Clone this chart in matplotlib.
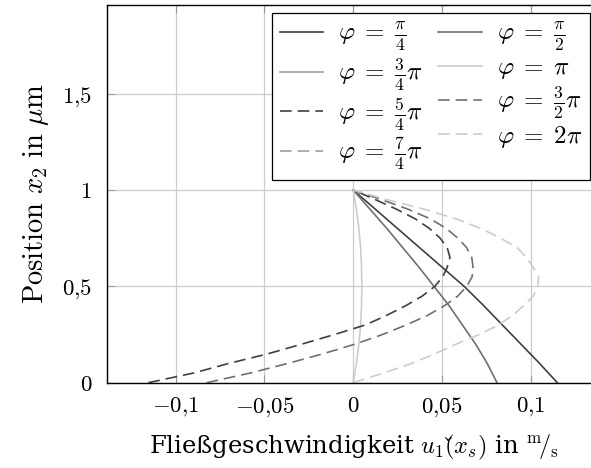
import numpy as np
import matplotlib
matplotlib.use("Agg")
from matplotlib import pyplot as plt

x2 = [0.0, 0.1, 0.2, 0.3, 0.4, 0.5, 0.6, 0.7, 0.8, 0.9, 1.0]
# finer grid for the bulging dashed profiles
x2_fine = [0.0, 0.05, 0.1, 0.15, 0.2, 0.25, 0.3, 0.35, 0.4, 0.45, 0.5,
           0.55, 0.6, 0.65, 0.7, 0.75, 0.8, 0.85, 0.9, 0.95, 1.0]

# flow velocity u1 (m/s) for each phase angle
u_pi4 = [0.115, 0.105, 0.0945, 0.084, 0.0735, 0.0625, 0.050, 0.0375, 0.025, 0.0125, 0.0]
u_pi2 = [0.081, 0.0755, 0.069, 0.0615, 0.054, 0.0455, 0.037, 0.028, 0.019, 0.0095, 0.0]
u_3pi4 = []
u_pi = [0.0, 0.0018, 0.0032, 0.0042, 0.0047, 0.0049, 0.0047, 0.0042, 0.0032, 0.0018, 0.0]
u_5pi4 = [-0.1154, -0.090, -0.070, -0.048, -0.029, -0.0105, 0.007, 0.019, 0.0297, 0.039, 0.046,
          0.0505, 0.053, 0.0545, 0.053, 0.049, 0.043, 0.035, 0.0245, 0.0125, 0.0]
u_3pi2 = [-0.0826, -0.058, -0.0368, -0.017, 0.001, 0.0165, 0.030, 0.042, 0.0515, 0.059, 0.064,
          0.067, 0.0675, 0.0668, 0.064, 0.059, 0.0525, 0.0435, 0.031, 0.016, 0.0]
u_7pi4 = []
u_2pi = [0.0, 0.017, 0.033, 0.046, 0.058, 0.071, 0.082, 0.090, 0.096, 0.1015, 0.104,
         0.1045, 0.1013, 0.0975, 0.0925, 0.083, 0.072, 0.058, 0.040, 0.019, 0.0]

labels = [r'$\varphi\;=\;\frac{\pi}{4}$', r'$\varphi\;=\;\frac{\pi}{2}$',
          r'$\varphi\;=\;\frac{3}{4}\pi$', r'$\varphi\;=\;\pi$',
          r'$\varphi\;=\;\frac{5}{4}\pi$', r'$\varphi\;=\;\frac{3}{2}\pi$',
          r'$\varphi\;=\;\frac{7}{4}\pi$', r'$\varphi\;=\;2\pi$']

xticks = [-0.1, -0.05, 0, 0.05, 0.1]
xtick_labels = [r'$-0{,}1$', r'$-0{,}05$', r'$0$', r'$0{,}05$', r'$0{,}1$']
yticks = [0, 0.5, 1, 1.5]
ytick_labels = [r'$0$', r'$0{,}5$', r'$1$', r'$1{,}5$']

plt.rcParams['mathtext.fontset'] = 'cm'
plt.rcParams['font.family'] = ['DejaVu Serif']

fig = plt.figure(figsize=(5.91, 4.68), dpi=100)
# axes run a bit past the right edge of the picture, like the cropped original
ax = fig.add_axes([0.1816, 0.1823, 0.8335, 0.807])

dash = (0, (7, 3.6))
series = [u_pi4, u_pi2, u_3pi4, u_pi, u_5pi4, u_3pi2, u_7pi4, u_2pi]
ys = [x2, x2, x2, x2, x2_fine, x2_fine, x2_fine, x2_fine]
colors = ['#404040', '#707070', '#a0a0a0', '#cccccc'] * 2
styles = ['-'] * 4 + [dash] * 4

handles = []
for vals, yv, col, ls, lab in zip(series, ys, colors, styles, labels):
    if len(vals) > 0:
        h, = ax.plot(vals, yv, color=col, linestyle=ls, lw=1.2, label=lab)
    else:
        # no profile visible for this phase, keep only the legend entry
        h, = ax.plot([], [], color=col, linestyle=ls, lw=1.2, label=lab)
    handles.append(h)

ax.set_xlim(-0.1385, 0.139)
ax.set_ylim(0, 1.96)
ax.set_xticks(xticks)
ax.set_xticklabels(xtick_labels)
ax.set_yticks(yticks)
ax.set_yticklabels(ytick_labels)
ax.tick_params(direction='in', length=6, width=0.8, color='#999999',
               top=True, right=True, labelsize=16.5)
ax.tick_params(axis='x', pad=9)
ax.tick_params(axis='y', pad=11)
ax.grid(True, color='#cccccc', lw=0.9)
ax.set_axisbelow(True)
for s in ax.spines.values():
    s.set_linewidth(1.0)

ax.set_xlabel(r'Fließgeschwindigkeit $u_1(\check{x}_s)$ in $^{\mathrm{m}}\!/_{\mathrm{s}}$',
              fontsize=17.5, labelpad=10)
ax.set_ylabel(r'$\mathrm{Position}\ x_2\ \mathrm{in}\ \mu\mathrm{m}$', fontsize=20.5,
              labelpad=8)

# legend is filled column by column, so reorder to get the row layout
order = [0, 2, 4, 6, 1, 3, 5, 7]
leg = ax.legend([handles[i] for i in order], [labels[i] for i in order],
                ncol=2, loc='upper right',
                bbox_to_anchor=(590 / 591, 1 - 13.3 / 468),
                bbox_transform=fig.transFigure, borderaxespad=0,
                fontsize=18, fancybox=False, framealpha=1, edgecolor='black',
                handlelength=1.75, handletextpad=0.6, columnspacing=0.6,
                labelspacing=0.12, borderpad=0.3)
leg.get_frame().set_linewidth(0.9)

fig.savefig("out.png", dpi=100)
